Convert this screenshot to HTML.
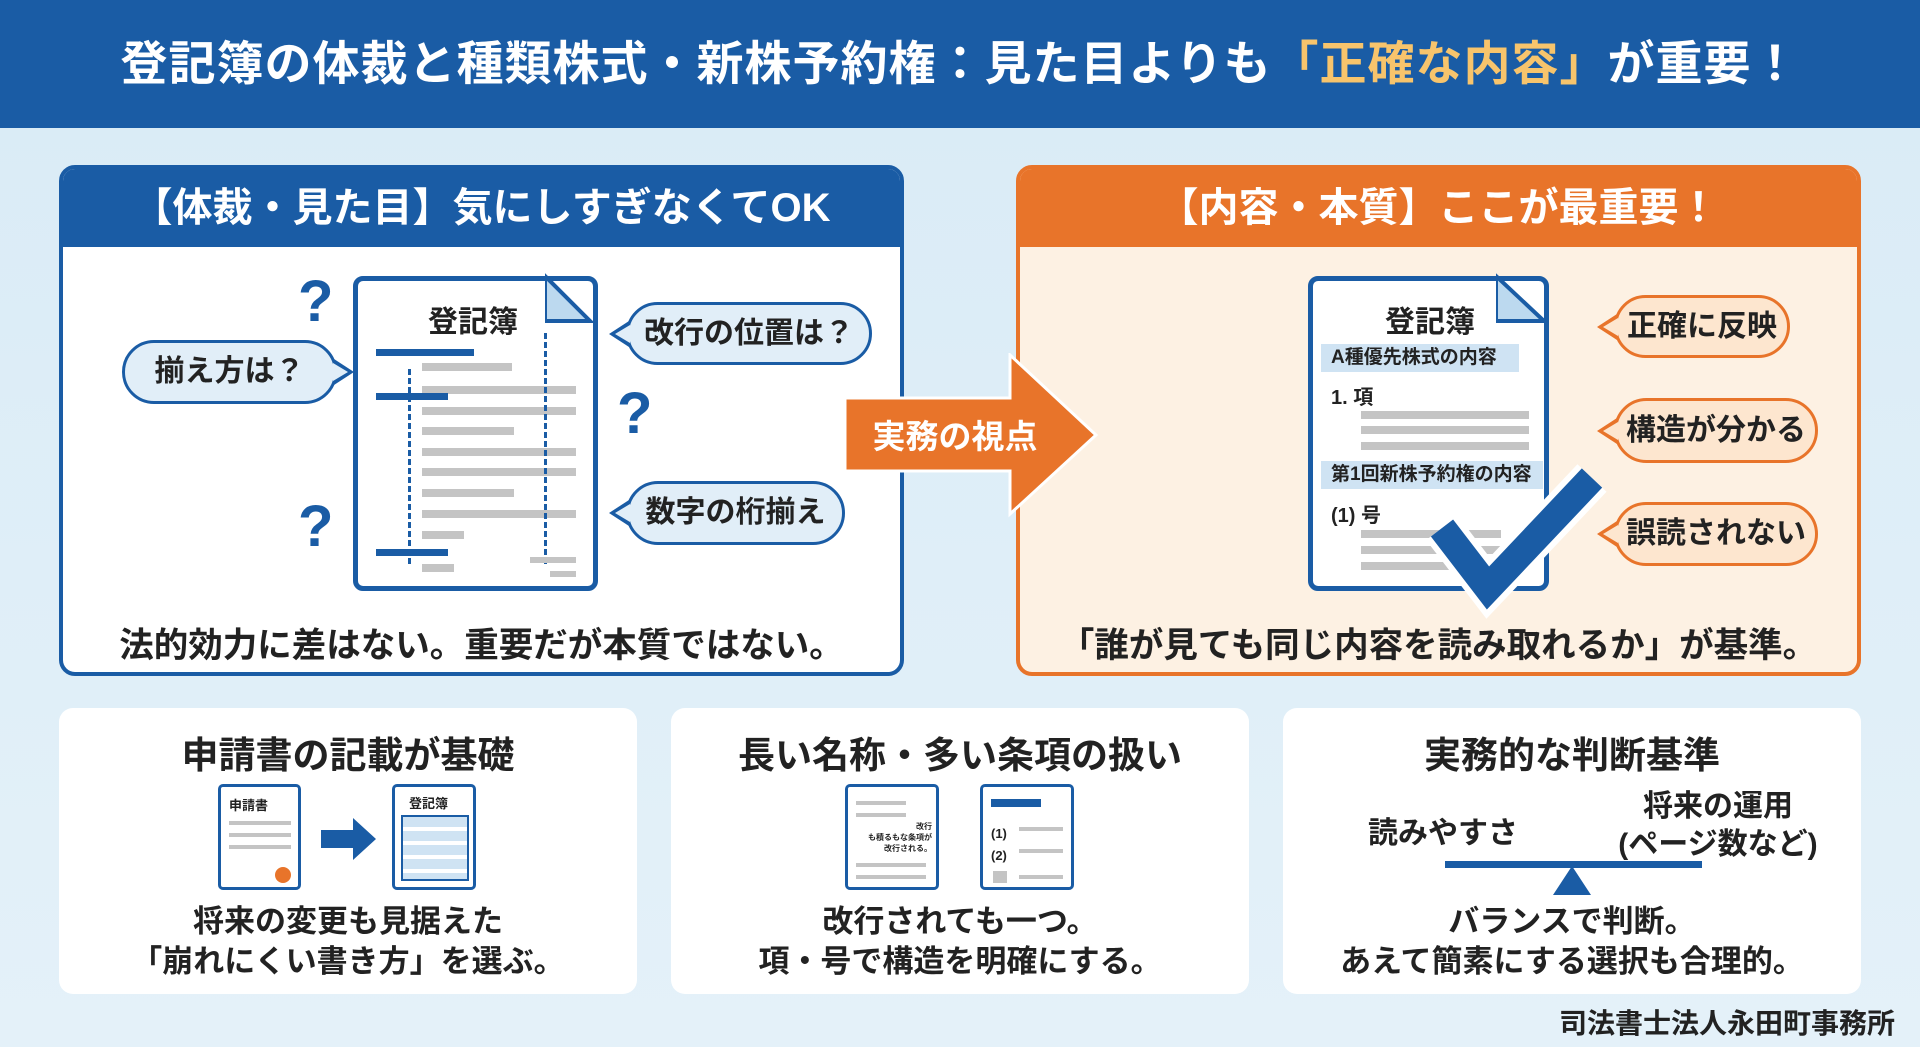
<!DOCTYPE html>
<html><head><meta charset="utf-8"><style>
*{margin:0;padding:0;box-sizing:border-box}
body{width:1920px;height:1047px;overflow:hidden;background:linear-gradient(180deg,#d9ebf6,#e4f1f9);font-family:"Liberation Sans","Noto Sans CJK JP",sans-serif;font-weight:bold;color:#222;position:relative}
.a{position:absolute}
.hdr{left:0;top:0;width:1920px;height:128px;background:#1a5ca5;color:#fff;font-size:47px;text-align:center;line-height:128px;letter-spacing:1px}
.panel{border:4px solid #1a5ca5;border-radius:16px;overflow:hidden;background:#fff}
.ph{position:absolute;left:0;top:0;right:0;height:78px;color:#fff;font-size:40px;text-align:center;line-height:78px}
.bub{position:absolute;border:3px solid #1a5ca5;background:#e1eef8;border-radius:34px;font-size:30px;text-align:center;color:#222}
.bub.o{border-color:#e8742a;background:#fde6cf}
.bub::before{content:"";position:absolute;top:50%;margin-top:-13px;width:0;height:0;border-top:13px solid transparent;border-bottom:13px solid transparent}
.bub::after{content:"";position:absolute;top:50%;margin-top:-9px;width:0;height:0;border-top:9px solid transparent;border-bottom:9px solid transparent}
.bub.r::before{right:-20px;border-left:20px solid #1a5ca5}
.bub.r::after{right:-14px;border-left:15px solid #e1eef8}
.bub.l::before{left:-20px;border-right:20px solid #1a5ca5}
.bub.l::after{left:-14px;border-right:15px solid #e1eef8}
.bub.o.l::before{border-right-color:#e8742a}
.bub.o.l::after{border-right-color:#fde6cf}
.q{position:absolute;color:#1a5ca5;font-size:58px;font-weight:bold}
.doc{position:absolute;border:5px solid #1a5ca5;border-radius:10px;background:#fff}
.gl{position:absolute;height:8px;background:#c4c4c4}
.card{position:absolute;background:#fff;border-radius:14px;top:708px;height:286px;width:578px;text-align:center}
.ct{position:absolute;left:0;right:0;top:17px;font-size:37px}
.cx{position:absolute;left:0;right:0;top:194px;font-size:31px;line-height:40px}
.bt{position:absolute;left:0;right:0;top:448px;text-align:center;font-size:34.5px;color:#222}
</style></head><body>
<div class="a hdr">登記簿の体裁と種類株式・新株予約権：見た目よりも<span style="color:#f7c46c">「正確な内容」</span>が重要！</div>

<div class="a panel" style="left:59px;top:165px;width:845px;height:511px">
 <div class="ph" style="background:#1a5ca5">【体裁・見た目】気にしすぎなくてOK</div>
 <div class="bt">法的効力に差はない。重要だが本質ではない。</div>
</div>
<div class="doc" style="left:353px;top:276px;width:245px;height:315px">
 <div class="a" style="left:70px;top:16px;font-size:30px">登記簿</div>
 <div class="a" style="left:18px;top:68px;width:98px;height:7px;background:#1a5ca5"></div>
 <div class="gl" style="left:64px;top:82px;width:90px"></div>
 <div class="gl" style="left:64px;top:105px;width:154px"></div>
 <div class="a" style="left:18px;top:112px;width:72px;height:7px;background:#1a5ca5"></div>
 <div class="gl" style="left:64px;top:126px;width:154px"></div>
 <div class="gl" style="left:64px;top:146px;width:92px"></div>
 <div class="gl" style="left:64px;top:167px;width:154px"></div>
 <div class="gl" style="left:64px;top:187px;width:154px"></div>
 <div class="gl" style="left:64px;top:208px;width:92px"></div>
 <div class="gl" style="left:64px;top:229px;width:154px"></div>
 <div class="gl" style="left:64px;top:250px;width:42px"></div>
 <div class="a" style="left:18px;top:268px;width:72px;height:7px;background:#1a5ca5"></div>
 <div class="gl" style="left:64px;top:283px;width:32px"></div>
 <div class="a" style="left:50px;top:88px;height:195px;border-left:3px dashed #1a5ca5"></div>
 <div class="a" style="left:186px;top:52px;height:231px;border-left:3px dashed #1a5ca5"></div>
 <div class="gl" style="left:172px;top:276px;width:46px;height:6px"></div>
 <div class="gl" style="left:192px;top:290px;width:26px;height:6px"></div>
</div>
<svg class="a" style="left:545px;top:271px" width="60" height="60"><polygon points="0,5 0,50 45,50" fill="#bcd9ef" stroke="#1a5ca5" stroke-width="4"/></svg>
<div class="q" style="left:298px;top:268px">?</div>
<div class="q" style="left:617px;top:380px">?</div>
<div class="q" style="left:298px;top:493px">?</div>
<div class="bub r" style="left:122px;top:340px;width:215px;height:64px;line-height:58px">揃え方は？</div>
<div class="bub l" style="left:626px;top:302px;width:246px;height:63px;line-height:57px">改行の位置は？</div>
<div class="bub l" style="left:626px;top:481px;width:219px;height:64px;line-height:58px">数字の桁揃え</div>

<div class="a panel" style="left:1016px;top:165px;width:845px;height:511px;border-color:#e8742a;background:#fdf1e3">
 <div class="ph" style="background:#e8742a">【内容・本質】ここが最重要！</div>
 <div class="bt">「誰が見ても同じ内容を読み取れるか」が基準。</div>
</div>
<div class="doc" style="left:1308px;top:276px;width:241px;height:315px">
 <div class="a" style="left:72px;top:16px;font-size:30px">登記簿</div>
 <div class="a" style="left:8px;top:63px;width:198px;height:28px;background:#cfe3f3;font-size:19px;line-height:28px;padding-left:10px">A種優先株式の内容</div>
 <div class="a" style="left:18px;top:100px;font-size:20px">1. 項</div>
 <div class="gl" style="left:48px;top:130px;width:168px"></div>
 <div class="gl" style="left:48px;top:145px;width:168px"></div>
 <div class="gl" style="left:48px;top:161px;width:168px"></div>
 <div class="a" style="left:8px;top:180px;width:222px;height:28px;background:#cfe3f3;font-size:19px;line-height:28px;padding-left:10px">第1回新株予約権の内容</div>
 <div class="a" style="left:18px;top:218px;font-size:20px">(1) 号</div>
 <div class="gl" style="left:48px;top:249px;width:140px"></div>
 <div class="gl" style="left:48px;top:265px;width:140px"></div>
 <div class="gl" style="left:48px;top:281px;width:140px"></div>
</div>
<svg class="a" style="left:1496px;top:271px" width="60" height="60"><polygon points="0,5 0,50 48,50" fill="#bcd9ef" stroke="#1a5ca5" stroke-width="4"/></svg>
<svg class="a" style="left:1420px;top:460px" width="200" height="160"><polyline points="22,68 68,128 172,18" fill="none" stroke="#fff" stroke-width="40" stroke-linejoin="miter"/><polyline points="22,68 68,128 172,18" fill="none" stroke="#1a5ca5" stroke-width="28" stroke-linejoin="miter"/></svg>
<div class="bub o l" style="left:1614px;top:295px;width:176px;height:63px;line-height:57px">正確に反映</div>
<div class="bub o l" style="left:1614px;top:398px;width:204px;height:65px;line-height:59px">構造が分かる</div>
<div class="bub o l" style="left:1614px;top:502px;width:204px;height:64px;line-height:58px">誤読されない</div>

<svg class="a" style="left:843px;top:353px" width="260" height="166"><polygon points="2,45 167,45 167,2 253,82 167,161 167,118 2,118" fill="#e8742a" stroke="#fff" stroke-width="3"/><text x="112" y="95" fill="#fff" font-size="33" font-weight="bold" text-anchor="middle" font-family="Liberation Sans,Noto Sans CJK JP,sans-serif">実務の視点</text></svg>

<div class="card" style="left:59px">
 <div class="ct">申請書の記載が基礎</div>
 <div class="cx">将来の変更も見据えた<br>「崩れにくい書き方」を選ぶ。</div>
</div>
<div class="doc" style="left:218px;top:784px;width:83px;height:106px;border-width:3px;border-radius:5px">
 <div class="a" style="left:8px;top:8px;font-size:13px">申請書</div>
 <div class="gl" style="left:8px;top:34px;width:62px;height:4px"></div>
 <div class="gl" style="left:8px;top:46px;width:62px;height:4px"></div>
 <div class="gl" style="left:8px;top:58px;width:62px;height:4px"></div>
 <div class="a" style="left:54px;top:80px;width:16px;height:16px;border-radius:50%;background:#e8742a"></div>
</div>
<svg class="a" style="left:321px;top:818px" width="56" height="42"><polygon points="0,12 32,12 32,0 55,21 32,42 32,30 0,30" fill="#1a5ca5"/></svg>
<div class="doc" style="left:392px;top:784px;width:84px;height:106px;border-width:3px;border-radius:5px">
 <div class="a" style="left:14px;top:6px;font-size:13px">登記簿</div>
 <div class="a" style="left:6px;top:28px;width:68px;height:66px;border:2px solid #1a5ca5;background:repeating-linear-gradient(180deg,#cfe3f3 0 10px,#fff 10px 14px)"></div>
</div>
<div class="card" style="left:671px">
 <div class="ct">長い名称・多い条項の扱い</div>
 <div class="cx">改行されても一つ。<br>項・号で構造を明確にする。</div>
</div>
<div class="doc" style="left:845px;top:784px;width:94px;height:106px;border-width:3px;border-radius:5px">
 <div class="gl" style="left:8px;top:14px;width:50px;height:4px"></div>
 <div class="gl" style="left:8px;top:26px;width:50px;height:4px"></div>
 <div class="a" style="left:8px;top:34px;font-size:8px;line-height:11px;text-align:right;width:76px">改行<br>も積るもな条項が<br>改行される。</div>
 <div class="gl" style="left:8px;top:76px;width:70px;height:4px"></div>
 <div class="gl" style="left:8px;top:88px;width:70px;height:4px"></div>
</div>
<div class="doc" style="left:980px;top:784px;width:94px;height:106px;border-width:3px;border-radius:5px">
 <div class="a" style="left:8px;top:12px;width:50px;height:8px;background:#1a5ca5"></div>
 <div class="a" style="left:8px;top:36px;font-size:13px;line-height:22px">(1)<br>(2)</div>
 <div class="gl" style="left:36px;top:40px;width:44px;height:4px"></div>
 <div class="gl" style="left:36px;top:62px;width:44px;height:4px"></div>
 <div class="gl" style="left:10px;top:84px;width:14px;height:12px"></div>
 <div class="gl" style="left:36px;top:88px;width:44px;height:4px"></div>
</div>
<div class="card" style="left:1283px">
 <div class="ct">実務的な判断基準</div>
 <div class="a" style="left:85px;top:100px;font-size:30px">読みやすさ</div>
 <div class="a" style="left:320px;top:80px;width:230px;font-size:30px;line-height:38px">将来の運用<br>(ページ数など)</div>
 <div class="cx">バランスで判断。<br>あえて簡素にする選択も合理的。</div>
</div>
<div class="a" style="left:1445px;top:861px;width:257px;height:7px;background:#1a5ca5"></div>
<svg class="a" style="left:1552px;top:866px" width="40" height="30"><polygon points="20,0 39,29 1,29" fill="#1a5ca5"/></svg>

<div class="a" style="right:25px;top:1002px;font-size:28px;color:#222">司法書士法人永田町事務所</div>
</body></html>
